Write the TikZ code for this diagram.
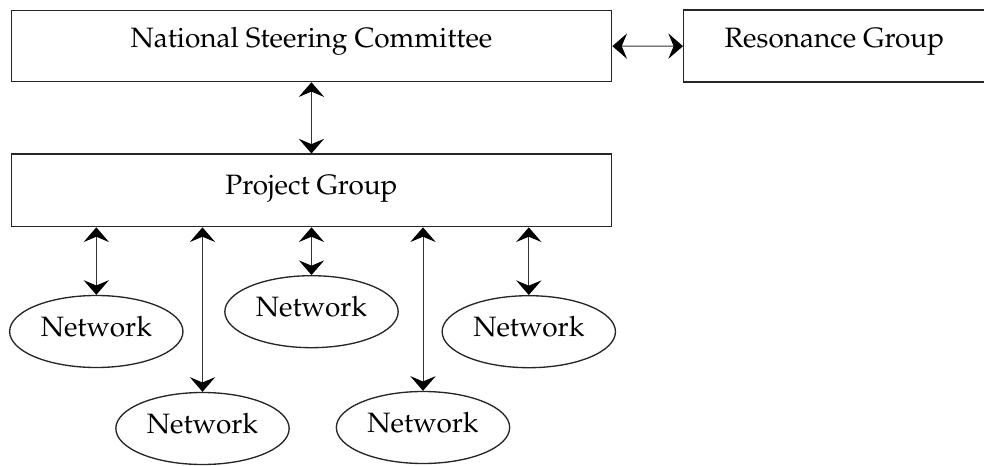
\documentclass[tikz,border=0pt]{standalone}
\usepackage[T1]{fontenc}
\usepackage{mathpazo}
\usetikzlibrary{arrows.meta,shapes.geometric}
\tikzset{
  boxline/.style={draw=black!85, line width=1pt},
  rbox/.style={boxline, rectangle, inner xsep=0pt, inner ysep=0pt, anchor=north west,
    font=\fontsize{21}{25}\selectfont},
  netnode/.style={boxline, ellipse, inner sep=0pt, minimum width=130pt, minimum height=54pt,
    text height=11.25pt, text depth=4.5pt, font=\fontsize{21}{25}\selectfont},
  link/.style={draw=black!80, line width=0.75pt,
    >={Stealth[length=11pt,width=19pt,inset=4pt,color=black]}, <->}
}
\begin{document}
\begin{tikzpicture}[x=0.75pt,y=-0.75pt]
\useasboundingbox (0,0) rectangle (984,466);
\node[rbox, minimum width=450.4pt, text height=27.5pt, text depth=25.7pt] (nsc) at (10.5,10) {National Steering Committee};
\node[rbox, minimum width=226pt, text height=27.9pt, text depth=26.1pt] (res) at (683,9.5) {Resonance Group};
\node[rbox, minimum width=450.4pt, text height=30pt, text depth=24.4pt] (pg) at (10.5,153.5) {Project Group};
\node[netnode] (e1) at (96.3,331.5) {Network};
\node[netnode] (e2) at (202.5,428.5) {Network};
\node[netnode] (e3) at (311.5,311.7) {Network};
\node[netnode] (e4) at (423,427.5) {Network};
\node[netnode] (e5) at (528.8,331.7) {Network};
\draw[link] (nsc.east) -- (res.west);
\draw[link] (nsc.south) -- (pg.north);
\foreach \e in {e1,e2,e3,e4,e5}{
  \draw[link] (pg.south -| \e.north) -- (\e.north);
}
\end{tikzpicture}
\end{document}
